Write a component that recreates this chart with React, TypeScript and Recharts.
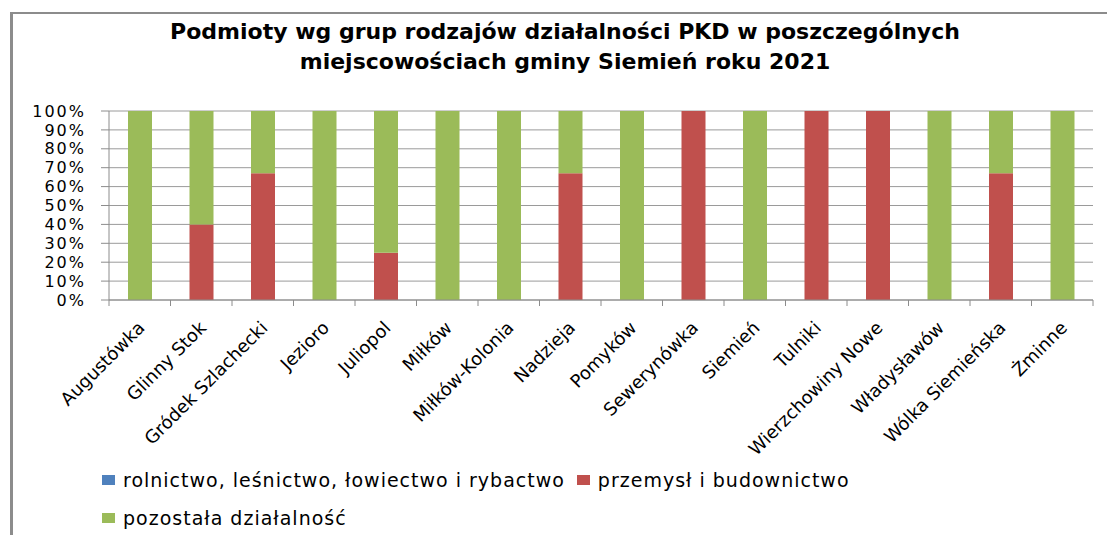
import React from 'react';
import { BarChart, Bar, XAxis, YAxis, CartesianGrid } from 'recharts';

const villages = [
  'Augustówka',
  'Glinny Stok',
  'Gródek Szlachecki',
  'Jezioro',
  'Juliopol',
  'Miłków',
  'Miłków-Kolonia',
  'Nadzieja',
  'Pomyków',
  'Sewerynówka',
  'Siemień',
  'Tulniki',
  'Wierzchowiny Nowe',
  'Władysławów',
  'Wólka Siemieńska',
  'Żminne'
];

// shares in % (100% stacked)
const rolnictwo = [0, 0, 0, 0, 0, 0, 0, 0, 0, 0, 0, 0, 0, 0, 0, 0];
const przemysl = [0, 40, 67, 0, 25, 0, 0, 67, 0, 100, 0, 100, 100, 0, 67, 0];
const pozostala = [100, 60, 33, 100, 75, 100, 100, 33, 100, 0, 100, 0, 0, 100, 33, 100];

const yTicks = [0, 10, 20, 30, 40, 50, 60, 70, 80, 90, 100];

const series = [
  { key: 'rolnictwo', name: 'rolnictwo, leśnictwo, łowiectwo i rybactwo', color: '#4F81BD' },
  { key: 'przemysl', name: 'przemysł i budownictwo', color: '#C0504D' },
  { key: 'pozostala', name: 'pozostała działalność', color: '#9BBB59' }
];

const data = villages.map((name, i) => ({
  name,
  rolnictwo: rolnictwo[i],
  przemysl: przemysl[i],
  pozostala: pozostala[i]
}));

const FONT = '"DejaVu Sans", sans-serif';
const W = 1107;
const H = 535;
const LEFT = 109;
const RIGHT = 14;
const BAND = (W - LEFT - RIGHT) / villages.length;

// Excel-like tick: tick marks between categories, label rotated -45deg
const AxisTick = (props: any) => {
  const { x, y, payload, index } = props;
  return (
    <g>
      <line x1={x + BAND / 2} y1={y - 6} x2={x + BAND / 2} y2={y} stroke="#8c8c8c" />
      {index === 0 && <line x1={x - BAND / 2} y1={y - 6} x2={x - BAND / 2} y2={y} stroke="#8c8c8c" />}
      <text
        transform={`translate(${x + 6},${y + 23}) rotate(-45)`}
        textAnchor="end"
        fontSize={18}
        fontFamily={FONT}
        fill="#000"
      >
        {payload.value}
      </text>
    </g>
  );
};

export default function App() {
  return (
    <div style={{ position: 'relative', width: W, height: H, background: '#fff', fontFamily: FONT }}>
      <style>{'body{margin:0}'}</style>
      {/* frame */}
      <div
        style={{
          position: 'absolute',
          left: 10,
          top: 12,
          width: W - 10,
          height: H - 12,
          borderTop: '2px solid #8c8c8c',
          borderLeft: '3px solid #8c8c8c',
          boxSizing: 'border-box'
        }}
      />
      <div
        style={{
          position: 'absolute',
          left: 65,
          top: 17,
          width: 1000,
          textAlign: 'center',
          fontSize: 22,
          fontWeight: 'bold',
          lineHeight: '30px',
          color: '#000'
        }}
      >
        Podmioty wg grup rodzajów działalności PKD w poszczególnych
        <br />
        miejscowościach gminy Siemień roku 2021
      </div>

      <div style={{ position: 'absolute', left: 0, top: 0 }}>
        <BarChart width={W} height={H} data={data} margin={{ top: 111, right: RIGHT, left: 0, bottom: 0 }} barSize={24}>
          <CartesianGrid vertical={false} stroke="#9a9a9a" />
          <XAxis
            dataKey="name"
            interval={0}
            height={235}
            tickLine={false}
            tickSize={6}
            tickMargin={0}
            stroke="#8c8c8c"
            tick={<AxisTick />}
          />
          <YAxis
            width={LEFT}
            domain={[0, 100]}
            ticks={yTicks}
            interval={0}
            tickFormatter={(v: number) => `${v}%`}
            tickSize={8}
            tickMargin={15}
            stroke="#8c8c8c"
            tick={{ fill: '#000', fontSize: 16, fontFamily: FONT, letterSpacing: 2 }}
          />
          {series.map((s) => (
            <Bar key={s.key} dataKey={s.key} name={s.name} stackId="a" fill={s.color} isAnimationActive={false} />
          ))}
        </BarChart>
      </div>

      {/* legend */}
      <div
        style={{
          position: 'absolute',
          left: 102,
          top: 468,
          width: 800,
          display: 'flex',
          flexWrap: 'wrap',
          columnGap: 12,
          rowGap: 14,
          fontSize: 19,
          letterSpacing: 1,
          lineHeight: '24px',
          color: '#000'
        }}
      >
        {series.map((s) => (
          <div key={s.key} style={{ display: 'flex', alignItems: 'center' }}>
            <span style={{ display: 'inline-block', width: 13, height: 10, background: s.color, marginRight: 8 }} />
            <span>{s.name}</span>
          </div>
        ))}
      </div>
    </div>
  );
}
